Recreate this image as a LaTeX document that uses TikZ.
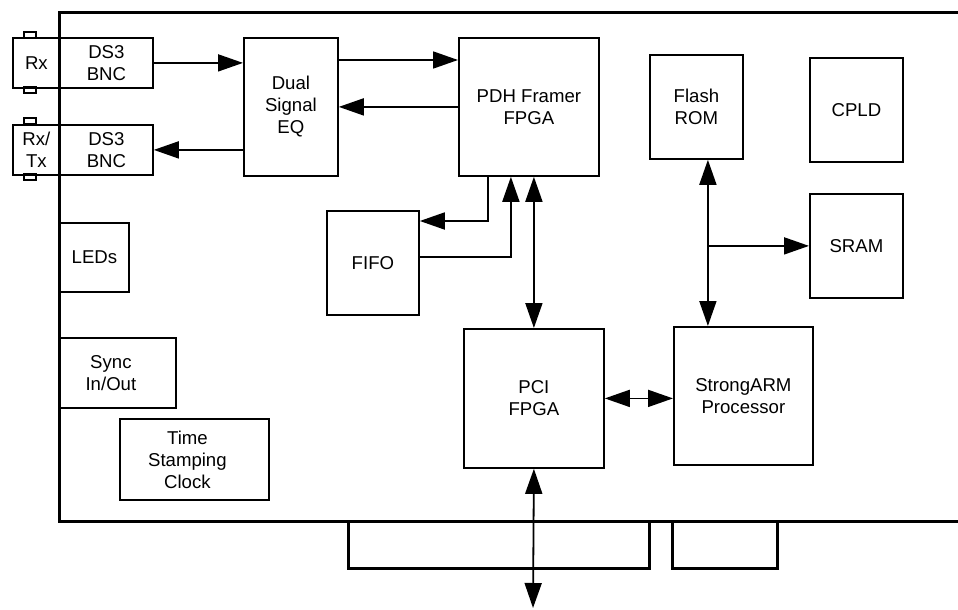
\documentclass[tikz,border=0pt]{standalone}
\usepackage{fontspec}
\setmainfont{Liberation Sans}
\usetikzlibrary{arrows.meta,positioning,calc}
\tikzset{
  blokk/.style={draw,line width=1.8pt,inner sep=0pt,align=center,anchor=north west},
  lap/.style={line width=3pt},
  vekony/.style={line width=1.8pt},
  egyir/.style={line width=1.8pt,-{Triangle[length=25pt,width=17pt]}},
  ketir/.style={line width=1.8pt,{Triangle[length=25pt,width=17pt]}-{Triangle[length=25pt,width=17pt]}},
}
\begin{document}
\begin{tikzpicture}[x=1pt,y=-1pt,font=\fontsize{18.6}{22}\selectfont]
  \useasboundingbox (0,0) rectangle (958,610);
  \node[blokk,minimum width=47,minimum height=50] (rx1) at (12,37) {Rx};
  \node[blokk,minimum width=93,minimum height=50] (ds1) at (59,37) {DS3\\BNC};
  \node[blokk,minimum width=47,minimum height=50] (rx2) at (12,124) {Rx/\\Tx};
  \node[blokk,minimum width=93,minimum height=50] (ds2) at (59,124) {DS3\\BNC};
  \foreach \y in {32,87,118,174} \draw[vekony] (24,\y) rectangle (36,\y+6);
  \node[blokk,minimum width=94,minimum height=138] (eq) at (243,37) {Dual\\Signal\\EQ};
  \node[blokk,minimum width=140,minimum height=138] (pdh) at (458,37) {PDH Framer\\FPGA};
  \node[blokk,minimum width=92,minimum height=104] (fifo) at (326,210) {FIFO};
  \node[blokk,minimum width=140,minimum height=139] (pci) at (463,328) {PCI\\FPGA};
  \node[blokk,minimum width=139,minimum height=138] (arm) at (673,326) {StrongARM\\Processor};
  \node[blokk,minimum width=93,minimum height=104] (flash) at (649,54) {Flash\\ROM};
  \node[blokk,minimum width=93,minimum height=104] (cpld) at (809,57) {CPLD};
  \node[blokk,minimum width=93,minimum height=104] (sram) at (809,193) {SRAM};
  \node[blokk,minimum width=69,minimum height=69] (leds) at (59,222) {LEDs};
  \node[blokk,minimum width=116,minimum height=70,
        label={[xshift=-7pt,align=center]center:Sync\\In/Out}] (sync) at (59,337) {};
  \node[blokk,minimum width=149,minimum height=81,
        label={[xshift=-7pt,align=center]center:Time\\Stamping\\Clock}] (ido) at (119,418) {};
  \coordinate (busz) at (533,608);
  \draw[lap] (958,13) -- (59,13) -- (59,521) -- (958,521);
  \draw[lap] (348,521) |- (649,568) -- (649,521);
  \draw[lap] (672,521) |- (777,568) -- (777,521);
  \draw[egyir] (ds1.east) -- (ds1.east -| eq.west);
  \draw[egyir] (eq.west |- ds2.east) -- (ds2.east);
  \draw[egyir] ([yshift=-23]eq.north east) -- ([yshift=-23]eq.north east -| pdh.west);
  \draw[egyir] (pdh.west) -- (pdh.west -| eq.east);
  \draw[egyir] ([xshift=-41]pdh.south) |- ([yshift=-11]fifo.north east);
  \draw[egyir] ([yshift=6]fifo.east) -| ([xshift=-18]pdh.south);
  \draw[ketir] (pci.north |- pdh.south) -- (pci.north);
  \draw[ketir] (pci.east) -- (pci.east -| arm.west);
  \draw[ketir] ([xshift=11.5]flash.south) -- ([xshift=11.5]flash.south |- arm.north);
  \draw[egyir] ([xshift=11.5]flash.south |- sram.west) -- (sram.west);
  \draw[ketir] (pci.south) -- (busz);
\end{tikzpicture}
\end{document}
